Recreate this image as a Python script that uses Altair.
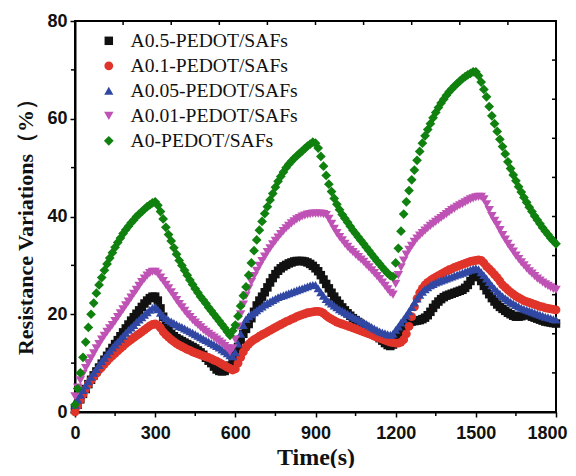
import altair as alt
import pandas as pd

SERIES = ["A0.5-PEDOT/SAFs", "A0.1-PEDOT/SAFs", "A0.05-PEDOT/SAFs",
          "A0.01-PEDOT/SAFs", "A0-PEDOT/SAFs"]
COLORS = ["#111111", "#e0342a", "#3047a3", "#bf52b5", "#10800f"]
SHAPES = ["square", "circle", "triangle-up", "triangle-down", "diamond"]
SIZES = [72, 95, 140, 145, 135]

TIME = list(range(0, 1810, 10))

A05 = [0.5, 1.5, 2.6, 3.7, 4.7, 5.7, 6.6, 7.5, 8.3, 9.1,
       9.9, 10.7, 11.5, 12.3, 13.1, 13.9, 14.7, 15.5, 16.3, 17.1,
       17.9, 18.7, 19.4, 20.1, 20.8, 21.5, 22.2, 22.8, 23.3, 23.6,
       23.6, 22.8, 21.2, 19.5, 18.0, 16.8, 16.0, 15.5, 15.1, 14.8,
       14.5, 14.2, 13.9, 13.6, 13.3, 13.0, 12.6, 12.2, 11.7, 11.1,
       10.5, 10.0, 9.3, 8.7, 8.4, 8.3, 8.4, 8.8, 9.5, 10.5,
       11.8, 13.3, 14.8, 16.0, 17.0, 18.0, 19.2, 20.5, 21.8, 22.8,
       23.6, 24.5, 25.5, 26.5, 27.4, 28.2, 28.9, 29.4, 29.8, 30.1,
       30.4, 30.6, 30.8, 30.9, 30.9, 30.9, 30.8, 30.6, 30.3, 29.9,
       29.4, 28.8, 28.0, 27.1, 26.2, 25.3, 24.4, 23.6, 22.8, 22.1,
       21.4, 20.8, 20.2, 19.7, 19.2, 18.8, 18.4, 18.0, 17.6, 17.2,
       16.8, 16.4, 16.0, 15.6, 15.1, 14.6, 14.1, 13.7, 13.5, 13.8,
       14.5, 15.5, 16.6, 17.5, 18.0, 18.3, 18.5, 18.6, 18.7, 18.8,
       19.0, 19.3, 19.8, 20.5, 21.3, 22.0, 22.6, 23.1, 23.5, 23.8,
       24.0, 24.2, 24.4, 24.6, 24.8, 25.0, 25.4, 26.0, 26.8, 27.6,
       28.3, 27.8, 26.8, 25.8, 24.9, 24.1, 23.3, 22.6, 22.0, 21.5,
       21.1, 20.7, 20.3, 20.0, 19.7, 19.5, 19.5, 19.6, 19.8, 19.9,
       19.8, 19.5, 19.3, 19.1, 18.9, 18.7, 18.5, 18.4, 18.3, 18.2,
       18.1]

A01 = [0.0, 1.3, 2.5, 3.6, 4.7, 5.7, 6.5, 7.2, 7.9, 8.6,
       9.2, 9.8, 10.4, 11.0, 11.5, 12.0, 12.5, 13.0, 13.5, 14.0,
       14.4, 14.8, 15.2, 15.6, 16.0, 16.4, 16.8, 17.2, 17.6, 17.9,
       18.0, 17.8, 17.2, 16.4, 15.8, 15.3, 14.8, 14.4, 14.0, 13.7,
       13.4, 13.1, 12.8, 12.6, 12.3, 12.1, 11.9, 11.7, 11.5, 11.3,
       11.1, 10.9, 10.6, 10.4, 10.1, 9.8, 9.5, 9.2, 8.9, 8.6,
       8.8, 10.0, 11.2, 12.3, 13.2, 13.9, 14.4, 14.8, 15.1, 15.5,
       15.8, 16.1, 16.4, 16.7, 17.0, 17.3, 17.6, 17.9, 18.2, 18.5,
       18.7, 19.0, 19.2, 19.5, 19.7, 19.9, 20.1, 20.3, 20.4, 20.5,
       20.6, 20.6, 20.5, 20.2, 19.7, 19.3, 19.0, 18.7, 18.4, 18.2,
       18.0, 17.8, 17.6, 17.4, 17.2, 17.0, 16.8, 16.6, 16.4, 16.2,
       16.0, 15.8, 15.5, 15.3, 15.1, 14.9, 14.7, 14.5, 14.3, 14.2,
       14.1, 14.1, 14.3, 14.8, 16.0, 17.5, 19.5, 21.5, 23.2, 24.4,
       25.3, 26.0, 26.5, 26.9, 27.3, 27.6, 27.9, 28.2, 28.5, 28.8,
       29.1, 29.3, 29.6, 29.8, 30.0, 30.2, 30.4, 30.6, 30.8, 30.9,
       31.0, 31.1, 31.0, 30.5, 29.8, 29.3, 28.7, 28.1, 27.5, 26.8,
       26.0, 25.5, 25.0, 24.5, 24.1, 23.7, 23.4, 23.1, 22.8, 22.6,
       22.4, 22.2, 22.0, 21.8, 21.6, 21.5, 21.3, 21.2, 21.1, 21.0,
       20.9]

A005 = [1.5, 2.5, 3.5, 4.5, 5.4, 6.3, 7.2, 8.0, 8.8, 9.6,
        10.4, 11.1, 11.8, 12.5, 13.2, 13.8, 14.4, 15.0, 15.6, 16.2,
        16.8, 17.3, 17.8, 18.4, 18.9, 19.4, 19.9, 20.4, 20.9, 21.3,
        21.5, 21.0, 20.3, 19.7, 19.2, 18.8, 18.5, 18.2, 17.9, 17.6,
        17.4, 17.1, 16.8, 16.5, 16.2, 15.9, 15.6, 15.3, 15.0, 14.7,
        14.4, 14.1, 13.8, 13.5, 13.2, 12.8, 12.4, 12.0, 11.6, 11.4,
        12.2, 14.0, 16.0, 17.8, 19.0, 19.6, 20.0, 20.4, 20.8, 21.2,
        21.6, 22.0, 22.3, 22.6, 22.9, 23.2, 23.5, 23.7, 23.9, 24.1,
        24.3, 24.5, 24.7, 24.9, 25.1, 25.3, 25.5, 25.7, 25.9, 26.0,
        26.0, 25.3, 24.5, 23.8, 23.1, 22.6, 22.2, 21.8, 21.4, 21.0,
        20.7, 20.4, 20.1, 19.8, 19.5, 19.2, 18.9, 18.6, 18.3, 18.0,
        17.7, 17.4, 17.1, 16.8, 16.5, 16.3, 16.1, 15.9, 15.8, 16.0,
        16.8, 17.5, 18.3, 19.0, 19.8, 20.6, 21.5, 22.4, 23.2, 24.0,
        24.6, 25.1, 25.5, 25.9, 26.2, 26.5, 26.7, 26.9, 27.1, 27.3,
        27.5, 27.7, 27.9, 28.1, 28.3, 28.5, 28.7, 28.9, 29.1, 29.3,
        29.4, 29.2, 28.6, 28.0, 27.3, 26.6, 25.9, 25.3, 24.7, 24.2,
        23.7, 23.3, 22.9, 22.5, 22.2, 21.9, 21.6, 21.3, 21.1, 20.9,
        20.7, 20.5, 20.3, 20.1, 19.9, 19.7, 19.5, 19.4, 19.2, 19.0,
        18.9]

A001 = [3.2, 5.0, 6.5, 7.8, 9.0, 10.0, 11.0, 12.0, 13.0, 13.9,
        14.8, 15.6, 16.4, 17.1, 17.8, 18.6, 19.4, 20.2, 21.0, 21.8,
        22.6, 23.4, 24.2, 25.0, 25.8, 26.6, 27.3, 27.9, 28.4, 28.7,
        28.7, 28.3, 27.5, 26.8, 26.0, 25.3, 24.5, 23.7, 22.9, 22.1,
        21.4, 20.7, 20.0, 19.4, 18.8, 18.3, 17.8, 17.3, 16.8, 16.4,
        16.0, 15.6, 15.2, 14.8, 14.4, 14.0, 13.5, 13.0, 12.3, 13.0,
        14.8, 17.5, 20.0, 22.0, 23.8, 25.3, 26.6, 27.8, 28.9, 29.9,
        30.9, 31.8, 32.7, 33.5, 34.3, 35.0, 35.7, 36.4, 37.0, 37.6,
        38.1, 38.6, 39.0, 39.4, 39.7, 40.0, 40.2, 40.4, 40.5, 40.6,
        40.6, 40.6, 40.6, 40.5, 40.3, 39.5, 38.5, 37.5, 36.6, 35.8,
        35.1, 34.4, 33.8, 33.2, 32.7, 32.2, 31.7, 31.2, 30.7, 30.1,
        29.6, 29.0, 28.4, 27.8, 27.2, 26.5, 25.8, 25.1, 24.4, 24.0,
        26.2, 28.0, 29.6, 31.0, 32.2, 33.2, 34.0, 34.8, 35.5, 36.1,
        36.6, 37.1, 37.6, 38.1, 38.5, 38.9, 39.3, 39.7, 40.1, 40.5,
        40.9, 41.3, 41.6, 42.0, 42.3, 42.6, 42.9, 43.2, 43.5, 43.7,
        43.9, 44.0, 44.0, 43.5, 42.5, 41.3, 40.1, 39.1, 38.3, 37.2,
        36.2, 35.3, 34.4, 33.6, 32.8, 32.0, 31.3, 30.6, 30.0, 29.4,
        28.8, 28.3, 27.8, 27.3, 26.9, 26.5, 26.1, 25.8, 25.5, 25.2,
        25.0]

A0 = [1.5, 4.8, 8.0, 11.2, 14.3, 17.3, 20.0, 22.3, 24.3, 26.0,
      27.5, 29.0, 30.3, 31.5, 32.6, 33.7, 34.7, 35.6, 36.5, 37.3,
      38.0, 38.7, 39.3, 40.0, 40.5, 41.0, 41.5, 42.0, 42.4, 42.8,
      43.0, 42.3, 41.0, 39.5, 37.8, 36.3, 35.0, 33.6, 32.3, 31.0,
      30.0, 29.0, 28.0, 27.0, 26.1, 25.2, 24.4, 23.6, 22.9, 22.2,
      21.4, 20.7, 20.0, 19.3, 18.6, 17.9, 17.2, 16.4, 15.7, 16.6,
      17.8, 19.6, 21.7, 23.8, 25.6, 28.0, 30.5, 33.0, 35.2, 37.2,
      39.0, 40.6, 42.0, 43.4, 44.7, 46.0, 47.2, 48.2, 49.1, 50.0,
      50.7, 51.3, 51.9, 52.4, 52.9, 53.4, 53.9, 54.4, 54.8, 55.2,
      55.0, 54.0, 52.3, 50.3, 48.4, 46.6, 45.1, 43.7, 42.5, 41.4,
      40.4, 39.6, 38.8, 38.0, 37.2, 36.5, 35.8, 35.1, 34.4, 33.7,
      33.0, 32.3, 31.6, 30.9, 30.3, 29.6, 29.0, 28.4, 27.9, 27.7,
      30.5, 33.5, 37.0, 40.5, 43.0, 45.3, 47.5, 49.5, 51.5, 53.3,
      55.0, 56.5, 57.8, 59.0, 60.2, 61.3, 62.3, 63.2, 64.0, 64.8,
      65.5, 66.1, 66.7, 67.2, 67.7, 68.2, 68.6, 69.0, 69.3, 69.6,
      69.6, 68.8, 67.5, 66.0, 64.5, 62.5, 60.6, 59.0, 57.4, 55.8,
      54.3, 52.8, 51.2, 49.8, 48.5, 47.3, 46.1, 45.0, 43.9, 42.9,
      41.9, 41.0, 40.1, 39.3, 38.5, 37.7, 37.0, 36.3, 35.6, 35.0,
      34.4]

X_TICKS = [0, 300, 600, 900, 1200, 1500, 1800]
X_MINOR = [150, 450, 750, 1050, 1350, 1650]
Y_TICKS = [0, 20, 40, 60, 80]
Y_MINOR = [10, 30, 50, 70]
TOP_TICKS = [180, 360, 540, 720, 900, 1080, 1260, 1440, 1620]
RIGHT_TICKS = [8, 16, 24, 32, 40, 48, 56, 64, 72]

W, H = 481, 391

rows = []
for name, vals in zip(SERIES, [A05, A01, A005, A001, A0]):
    for t, v in zip(TIME, vals):
        rows.append({"t": t, "v": v, "series": name})
df = pd.DataFrame(rows)

xscale = alt.Scale(domain=[0, 1800], nice=False, zero=False)
yscale = alt.Scale(domain=[0, 80], nice=False, zero=False)

X_AXIS = alt.Axis(values=X_TICKS, title="Time(s)", format="d", labelFlush=False,
                  labelAlign={"condition": {"test": "datum.value >= 1800", "value": "right"},
                              "value": "center"},
                  labelOffset={"condition": {"test": "datum.value >= 1800", "value": 11},
                               "value": 0},
                  titleY=52, titleBaseline="alphabetic")
Y_AXIS = alt.Axis(values=Y_TICKS, title="Resistance Variations（%）", labelFlush=False,
                  format="d", titleX=-50, titleY=200, titleBaseline="middle")

LEGEND = alt.Legend(title=None, orient="none", legendX=24, legendY=10,
                    symbolSize=90, labelFont="Liberation Serif",
                    labelFontSize=19.6, labelColor="#111111", labelLimit=0,
                    labelOffset=12, rowPadding=4, padding=0,
                    symbolStrokeWidth=0)

points = alt.Chart(df).mark_point(filled=True, opacity=1, strokeWidth=0).encode(
    x=alt.X("t:Q", scale=xscale, axis=X_AXIS),
    y=alt.Y("v:Q", scale=yscale, axis=Y_AXIS),
    color=alt.Color("series:N", sort=SERIES,
                    scale=alt.Scale(domain=SERIES, range=COLORS), legend=LEGEND),
    shape=alt.Shape("series:N", sort=SERIES,
                    scale=alt.Scale(domain=SERIES, range=SHAPES), legend=LEGEND),
    size=alt.Size("series:N", sort=SERIES,
                  scale=alt.Scale(domain=SERIES, range=SIZES), legend=None),
)

def xtick_layer(vals, y0, y1):
    return alt.Chart(pd.DataFrame({"t": vals})).mark_rule(color="black", strokeWidth=1.5).encode(
        x=alt.X("t:Q", scale=xscale, axis=X_AXIS),
        y=alt.value(y0), y2=alt.value(y1))

def ytick_layer(vals, x0, x1):
    return alt.Chart(pd.DataFrame({"v": vals})).mark_rule(color="black", strokeWidth=1.5).encode(
        y=alt.Y("v:Q", scale=yscale, axis=Y_AXIS),
        x=alt.value(x0), x2=alt.value(x1))

chart = alt.layer(
    points,
    xtick_layer(X_MINOR, H, H + 4),
    ytick_layer(Y_MINOR, -4, 0),
    xtick_layer(TOP_TICKS, 0, 4),
    ytick_layer(RIGHT_TICKS, W - 4, W),
).properties(
    width=W, height=H,
    autosize="none",
    padding={"left": 67, "top": 13, "right": 12, "bottom": 56},
).configure_view(
    stroke="black", strokeWidth=2
).configure_axis(
    grid=False, domainColor="black", domainWidth=2,
    tickColor="black", tickWidth=1.5, tickSize=5,
    labelFont="Liberation Sans", labelFontWeight="bold", labelFontSize=18,
    labelColor="#111111",
    titleFont="Liberation Serif", titleFontWeight="bold", titleColor="#111111",
).configure_axisX(
    labelPadding=7, titleFontSize=24
).configure_axisY(
    labelPadding=3, titleFontSize=22
)

chart.save("out.html", embed_options={"renderer": "svg", "actions": False})
